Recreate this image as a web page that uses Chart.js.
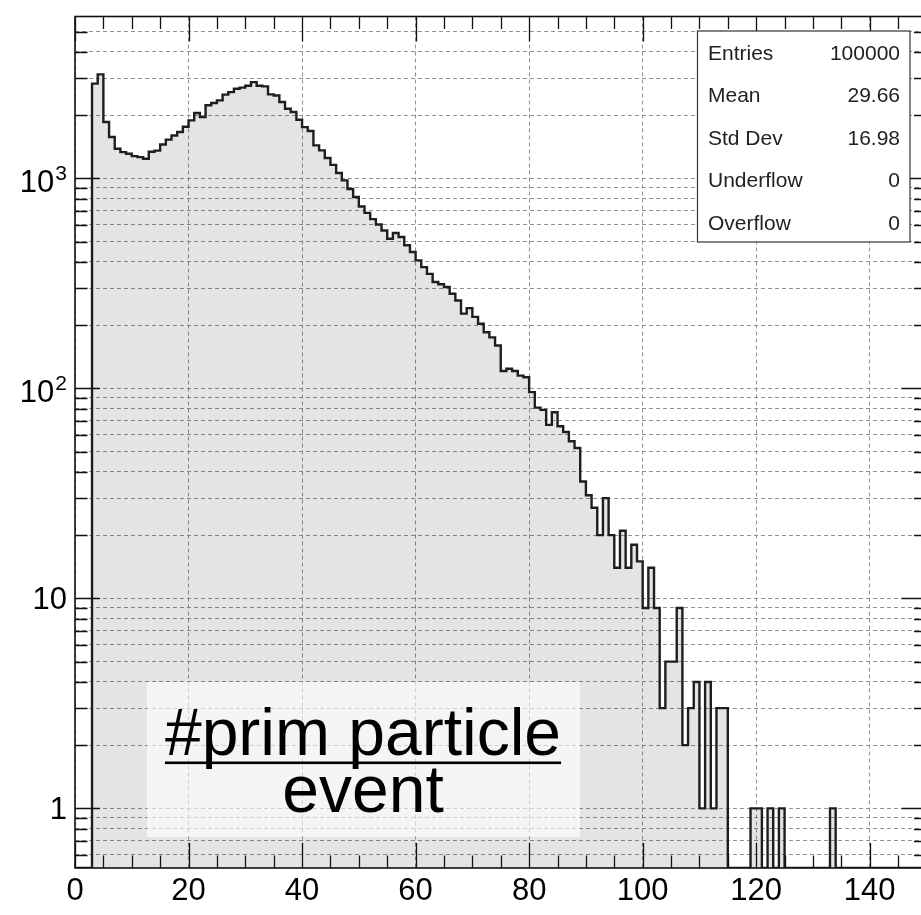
<!DOCTYPE html>
<html>
<head>
<meta charset="utf-8">
<title>prim particle histogram</title>
<script src="https://cdn.jsdelivr.net/npm/chart.js@4.4.1/dist/chart.umd.min.js"></script>
<style>
  html, body { margin: 0; padding: 0; background: #fff; overflow: hidden; }
  #wrap { position: relative; width: 930px; height: 915px; }
</style>
</head>
<body>
<div id="wrap"><canvas id="histChart"></canvas></div>
<script>
// histogram contents, bin i covers [i, i+1)
const counts = [
  0, 0, 0, 2825, 3128, 1854, 1573, 1384, 1334, 1311,           // 0-9
  1277, 1263, 1241, 1340, 1355, 1450, 1530, 1600, 1662, 1760,  // 10-19
  1888, 2047, 1958, 2228, 2284, 2352, 2504, 2576, 2673, 2704,  // 20-29
  2763, 2874, 2763, 2743, 2512, 2480, 2309, 2147, 2070, 1903,  // 30-39
  1755, 1680, 1436, 1359, 1250, 1160, 1060, 978, 890, 815,     // 40-49
  735, 685, 640, 603, 565, 516, 549, 526, 480, 446,            // 50-59
  407, 378, 351, 321, 313, 304, 282, 262, 227, 241,            // 60-69
  219, 203, 185, 175, 160, 121, 124, 121, 115, 113,            // 70-79
  96, 81, 79, 67, 77, 66, 62, 56, 52, 36,                      // 80-89
  31, 27, 20, 30, 20, 14, 21, 14, 18, 15,                      // 90-99
  9, 14, 9, 3, 5, 5, 9, 2, 3, 4,                               // 100-109
  1, 4, 1, 3, 3, 0, 0, 0, 0, 1,                                // 110-119
  1, 0, 1, 0, 1, 0, 0, 0, 0, 0,                                // 120-129
  0, 0, 0, 1, 0, 0, 0, 0, 0, 0,                                // 130-139
  0, 0, 0, 0, 0, 0, 0, 0, 0, 0                                 // 140-149
];

const xRange = [0, 150];
const yRange = [0.52, 5900];
const xTickValues = [0, 20, 40, 60, 80, 100, 120, 140];
const yLabelValues = [1, 10, 100, 1000];
const yTickLabels = ['1', '10', '10^2', '10^3'];

const statsLabels = ['Entries', 'Mean', 'Std Dev', 'Underflow', 'Overflow'];
const statsValues = ['100000', '29.66', '16.98', '0', '0'];
const boxLines = ['#prim particle', 'event'];

const FONT = '"Liberation Sans", Arial, Helvetica, sans-serif';

// grid/tick positions on the log axis: 1..9 x 10^n inside the range
let yGridValues = [];
for (let d = 0.1; d <= 1000; d *= 10) {
    for (let m = 1; m <= 9; m++) {
        let v = Math.round(m * d * 1000) / 1000;
        if (v >= yRange[0] && v <= yRange[1]) yGridValues.push(v);
    }
}

// step points: lower edge of each bin, empty bins sit on the axis floor
let points = counts.map((c, i) => ({ x: i, y: Math.max(c, yRange[0]) }));
points.push({ x: counts.length, y: yRange[0] });

function isDecade(v) {
    let l = Math.log10(v);
    return Math.abs(l - Math.round(l)) < 1e-6;
}

const rootStyle = {
    id: 'rootStyle',
    afterDraw(chart) {
        const ctx = chart.ctx;
        const a = chart.chartArea;
        const xs = chart.scales.x;
        const ys = chart.scales.y;
        ctx.save();

        // text box
        ctx.fillStyle = 'rgba(255,255,255,0.62)';
        ctx.fillRect(147, 682, 433, 155);
        ctx.fillStyle = '#000';
        ctx.font = '66px ' + FONT;
        ctx.textAlign = 'center';
        ctx.textBaseline = 'alphabetic';
        ctx.fillText(boxLines[0], 363, 755);
        let w = ctx.measureText(boxLines[0]).width;
        ctx.fillRect(363 - w / 2, 761.5, w, 2.6);
        ctx.fillText(boxLines[1], 363, 811.5);

        // frame
        ctx.strokeStyle = '#111';
        ctx.lineWidth = 1.6;
        ctx.strokeRect(a.left, a.top, a.right - a.left, a.bottom - a.top);

        // ticks pointing inwards, on all four sides
        ctx.lineWidth = 1.3;
        ctx.beginPath();
        for (let v = xRange[0]; v <= xRange[1]; v += 5) {
            let px = Math.round(xs.getPixelForValue(v)) + 0.5;
            let len = v % 20 === 0 ? 25 : 12.5;
            ctx.moveTo(px, a.bottom); ctx.lineTo(px, a.bottom - len);
            ctx.moveTo(px, a.top); ctx.lineTo(px, a.top + len);
        }
        yGridValues.forEach(v => {
            let py = Math.round(ys.getPixelForValue(v)) + 0.5;
            let len = isDecade(v) ? 25 : 12.5;
            ctx.moveTo(a.left, py); ctx.lineTo(a.left + len, py);
            ctx.moveTo(a.right, py); ctx.lineTo(a.right - len, py);
        });
        ctx.stroke();

        // y labels with superscript exponents
        ctx.fillStyle = '#000';
        ctx.textAlign = 'right';
        yLabelValues.forEach((v, i) => {
            let py = ys.getPixelForValue(v);
            let parts = yTickLabels[i].split('^');
            let right = 67;
            if (parts.length > 1) {
                ctx.font = '21px ' + FONT;
                let ew = ctx.measureText(parts[1]).width;
                ctx.fillText(parts[1], right, py + 2);
                ctx.font = '31px ' + FONT;
                ctx.fillText(parts[0], right - ew - 1, py + 14);
            } else {
                ctx.font = '31px ' + FONT;
                ctx.fillText(parts[0], right, py + 11);
            }
        });

        // stats box
        ctx.fillStyle = '#fff';
        ctx.fillRect(697.5, 31, 212.5, 211);
        ctx.strokeStyle = '#333';
        ctx.lineWidth = 1.2;
        ctx.strokeRect(697.5, 31, 212.5, 211);
        ctx.fillStyle = '#222';
        ctx.font = '21px ' + FONT;
        statsLabels.forEach((lab, i) => {
            let by = 59.5 + i * 42.5;
            ctx.textAlign = 'left';
            ctx.fillText(lab, 708, by);
            ctx.textAlign = 'right';
            ctx.fillText(statsValues[i], 900, by);
        });

        ctx.restore();
    }
};

const ctx = document.getElementById('histChart').getContext('2d');
const histChart = new Chart(ctx, {
    type: 'line',
    data: {
        datasets: [{
            data: points,
            stepped: true,
            borderColor: '#1e1e1e',
            borderWidth: 2.4,
            backgroundColor: 'rgba(0,0,0,0.105)',
            fill: 'start',
            pointRadius: 0,
            tension: 0
        }]
    },
    options: {
        responsive: true,
        maintainAspectRatio: false,
        animation: false,
        devicePixelRatio: 1,
        layout: { padding: { left: 0, top: 16.5, right: 3.5, bottom: 0 } },
        plugins: {
            legend: { display: false },
            tooltip: { enabled: false }
        },
        scales: {
            x: {
                type: 'linear',
                min: xRange[0],
                max: xRange[1],
                afterBuildTicks: s => { s.ticks = xTickValues.map(v => ({ value: v })); },
                afterFit: s => { s.height = 47; },
                ticks: {
                    font: { family: FONT, size: 31 },
                    color: '#000',
                    padding: 5,
                    maxRotation: 0,
                    autoSkip: false
                },
                grid: { color: '#929292', lineWidth: 1, drawTicks: false },
                border: { display: false, dash: [4, 3] }
            },
            y: {
                type: 'logarithmic',
                min: yRange[0],
                max: yRange[1],
                afterBuildTicks: s => { s.ticks = yGridValues.map(v => ({ value: v })); },
                afterFit: s => { s.width = 75; },
                ticks: { display: false },
                grid: { color: '#929292', lineWidth: 1, drawTicks: false },
                border: { display: false, dash: [4, 3] }
            }
        }
    },
    plugins: [rootStyle]
});
</script>
</body>
</html>
